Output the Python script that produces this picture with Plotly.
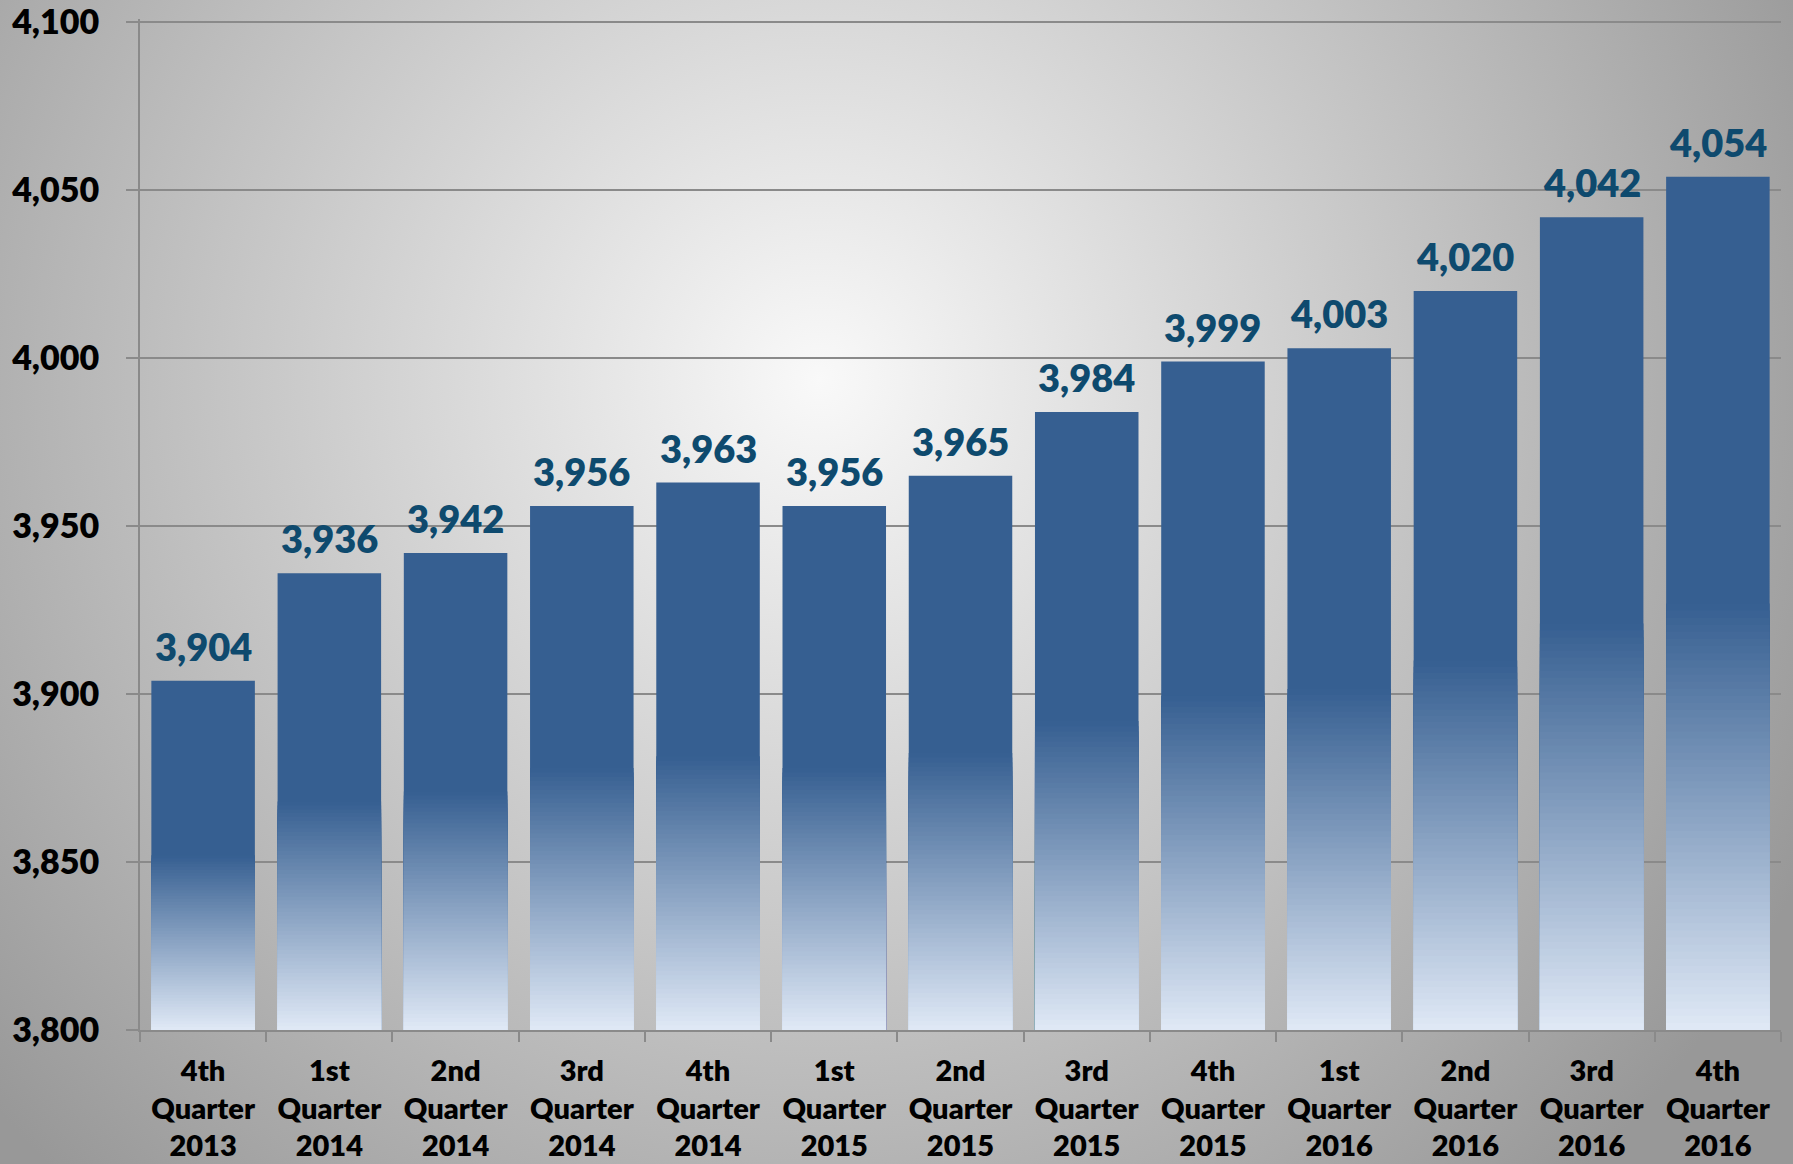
import base64
import plotly.graph_objects as go

categories = ["4th<br>Quarter<br>2013", "1st<br>Quarter<br>2014", "2nd<br>Quarter<br>2014",
              "3rd<br>Quarter<br>2014", "4th<br>Quarter<br>2014", "1st<br>Quarter<br>2015",
              "2nd<br>Quarter<br>2015", "3rd<br>Quarter<br>2015", "4th<br>Quarter<br>2015",
              "1st<br>Quarter<br>2016", "2nd<br>Quarter<br>2016", "3rd<br>Quarter<br>2016",
              "4th<br>Quarter<br>2016"]
values = [3904, 3936, 3942, 3956, 3963, 3956, 3965, 3984, 3999, 4003, 4020, 4042, 4054]
y_ticks = [3800, 3850, 3900, 3950, 4000, 4050, 4100]
y_base = 3800
y_top = 4101

W, H = 1793, 1164
ML, MR, MT, MB = 140, 12, 19, 134
PW, PH = W - ML - MR, H - MT - MB

DARK = (0x36, 0x5F, 0x91)
LIGHT = (0xE0, 0xE9, 0xF6)


def mix(t):
    c = [round(LIGHT[i] + (DARK[i] - LIGHT[i]) * t) for i in range(3)]
    return "rgb(%d,%d,%d)" % tuple(c)


heights = [v - y_base for v in values]
fig = go.Figure()
# full bar in dark colour
fig.add_trace(go.Bar(x=categories, y=heights, base=y_base, marker_color=mix(1.0),
                     marker_line_width=0, hoverinfo="skip"))
# lower half: gradient bands, drawn from top to bottom (shorter on top)
N = 60
for k in range(N, 0, -1):
    frac = 0.5 * k / N
    t = (k - 0.5) / N
    fig.add_trace(go.Bar(x=categories, y=[h * frac for h in heights], base=y_base,
                         marker_color=mix(t), marker_line_width=0, hoverinfo="skip"))

for c, v in zip(categories, values):
    fig.add_annotation(x=c, y=v, text=f"{v:,}", showarrow=False, yanchor="bottom",
                       yshift=10, font=dict(family="Lato", size=38, color="#0e4a6e", weight=800))

svg = (f"<svg xmlns='http://www.w3.org/2000/svg' width='{W}' height='{H}' viewBox='0 0 {W} {H}' "
       f"preserveAspectRatio='none'><defs><radialGradient id='g' gradientUnits='userSpaceOnUse' "
       f"cx='820' cy='380' r='1100'><stop offset='0' stop-color='#f9f9f9'/>"
       f"<stop offset='1' stop-color='#989898'/></radialGradient></defs>"
       f"<rect width='{W}' height='{H}' fill='url(#g)'/></svg>")
src = "data:image/svg+xml;base64," + base64.b64encode(svg.encode()).decode()
fig.add_layout_image(source=src, xref="paper", yref="paper", x=-ML / PW, y=1 + MT / PH,
                     sizex=W / PW, sizey=H / PH, sizing="stretch", layer="below",
                     xanchor="left", yanchor="top")

fig.update_layout(
    width=W, height=H, margin=dict(l=ML, r=MR, t=MT, b=MB, autoexpand=False),
    paper_bgcolor="#b0b0b0", plot_bgcolor="rgba(0,0,0,0)",
    barmode="overlay", bargap=0.18, showlegend=False,
    font=dict(family="Lato", color="black"),
)
fig.update_xaxes(type="category", tickson="boundaries", ticks="outside", ticklen=10,
                 tickcolor="#8a8a8a", tickwidth=2, showline=True, linecolor="#8a8a8a",
                 linewidth=2, showgrid=False, ticklabelstandoff=14, automargin=False,
                 tickfont=dict(family="Lato", size=29, color="black", weight=800))
fig.update_yaxes(range=[y_base, y_top], tickvals=y_ticks, tickformat=",d", ticks="outside",
                 ticklen=12, tickcolor="#8a8a8a", tickwidth=2, showline=True,
                 linecolor="#8a8a8a", linewidth=2, showgrid=True, gridcolor="#8a8a8a",
                 gridwidth=2, zeroline=False, ticklabelstandoff=20, automargin=False,
                 tickfont=dict(family="Lato", size=34, color="black", weight=800))

fig.write_html("out.html", config={"displayModeBar": False},
               post_script="document.body.style.margin='0';document.body.style.overflow='hidden';")
